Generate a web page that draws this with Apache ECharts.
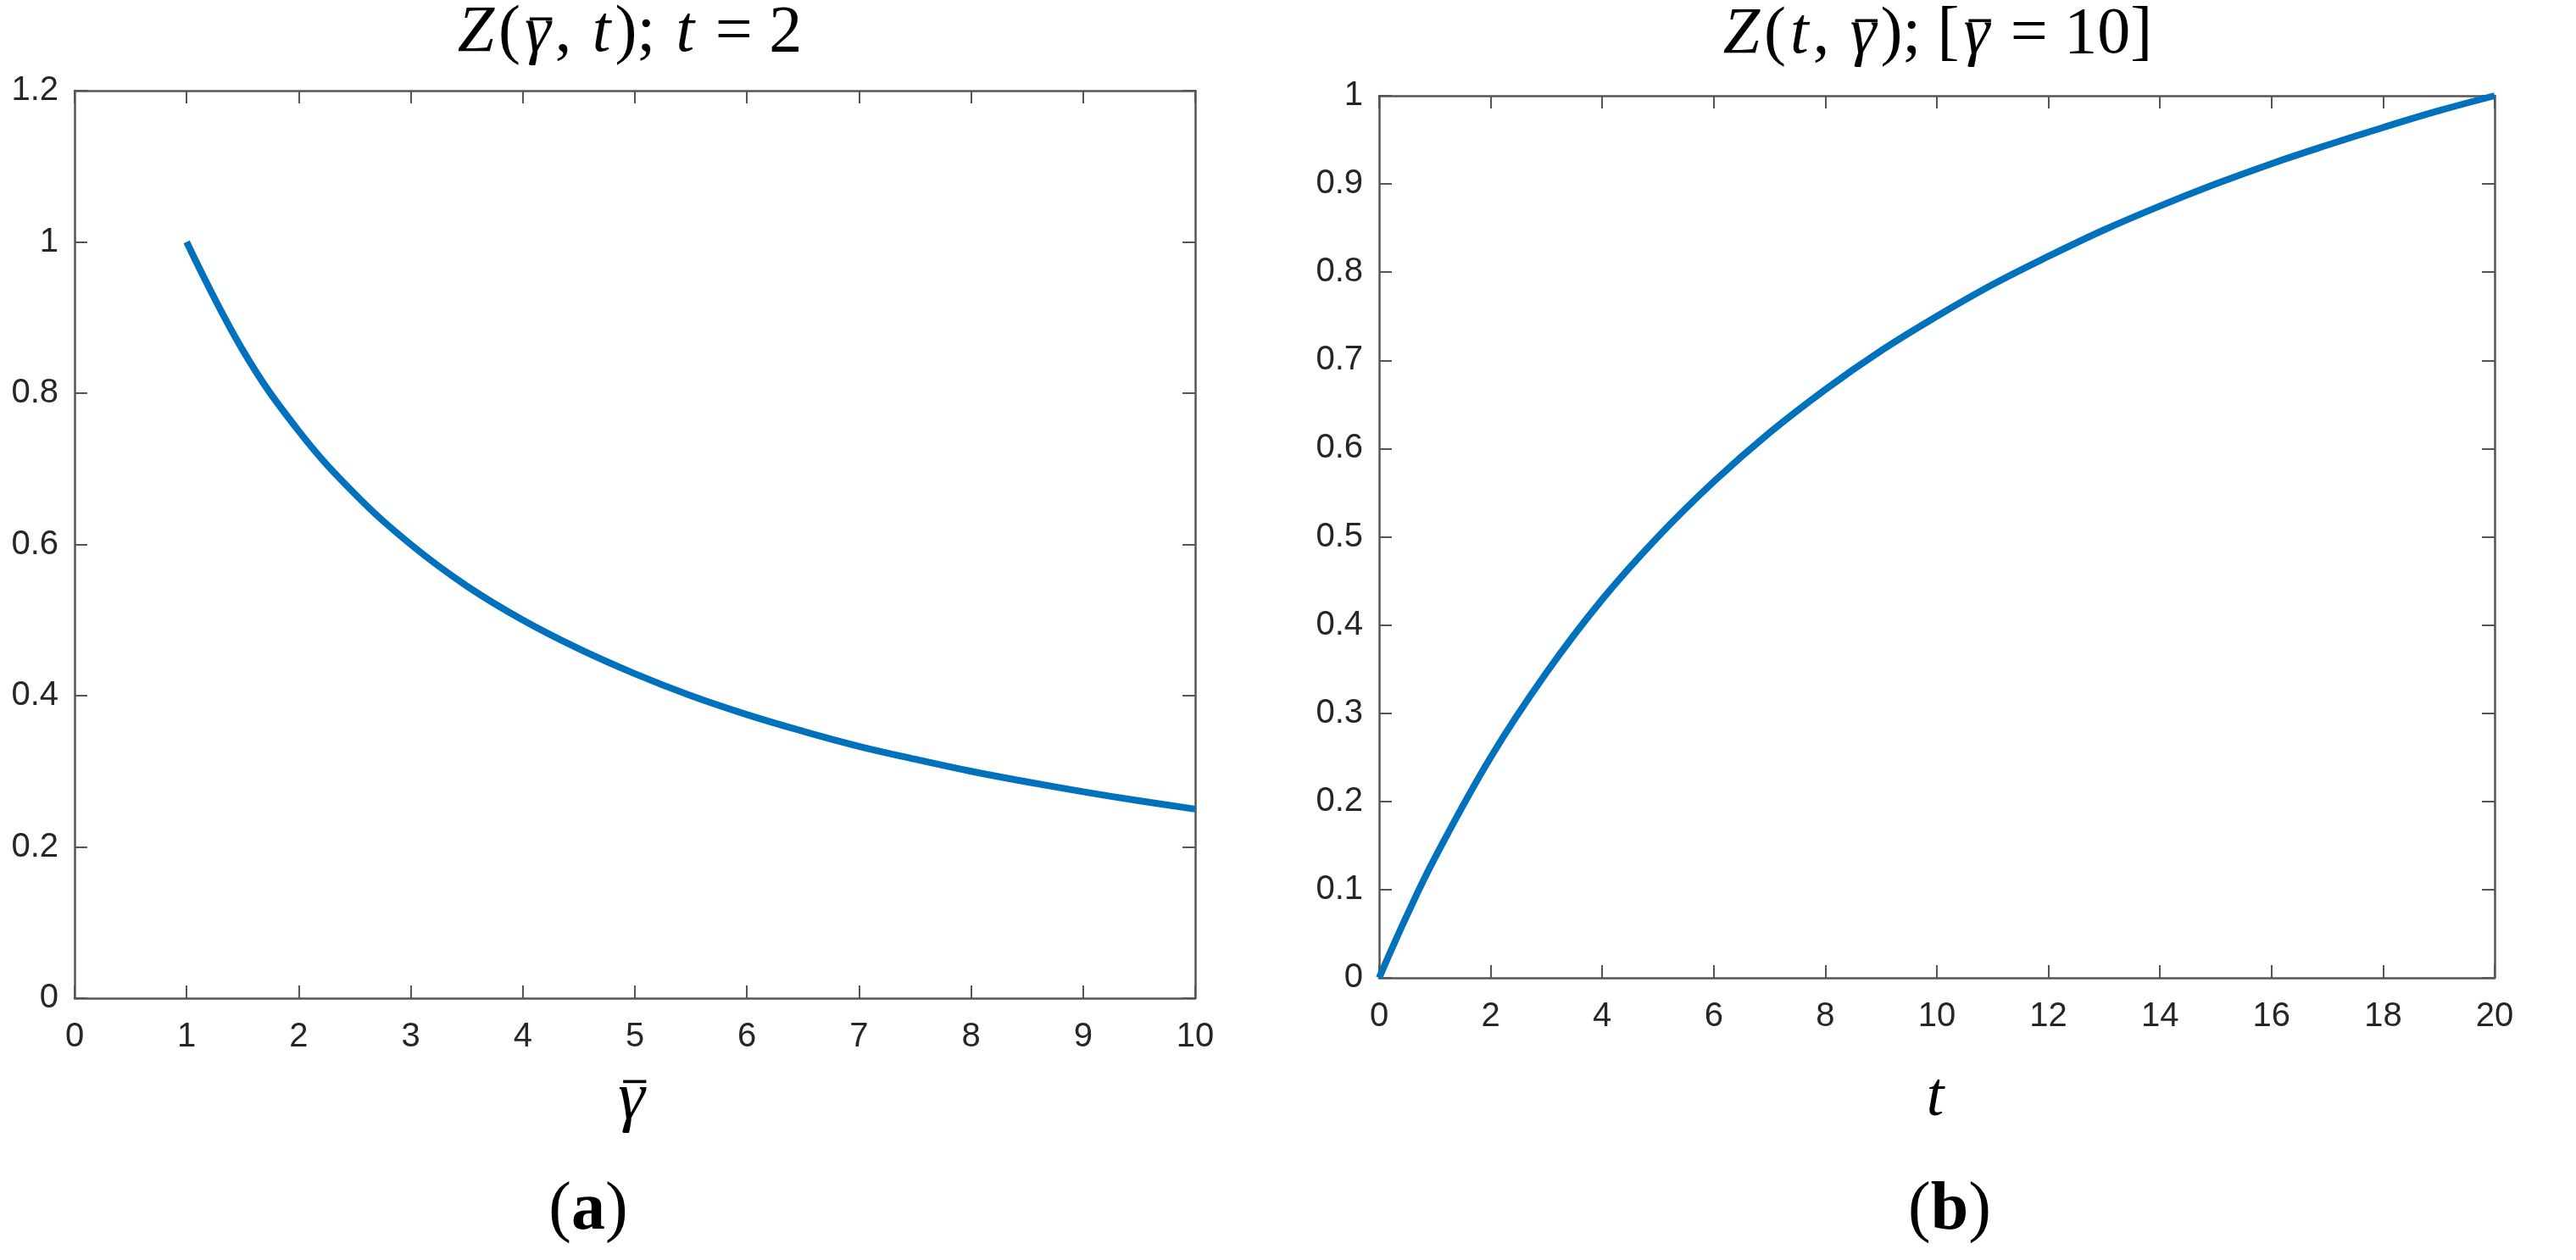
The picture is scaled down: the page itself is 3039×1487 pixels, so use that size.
<!DOCTYPE html>
<html>
<head>
<meta charset="utf-8">
<script src="https://cdn.jsdelivr.net/npm/echarts@6/dist/echarts.min.js"></script>
<style>html,body{margin:0;padding:0;background:#fff}#c{width:3039px;height:1487px}</style>
</head>
<body>
<div id="c"></div>
<script>
// (a) Z(gamma_bar, t), t = 2
const gammaBar = [1, 1.5, 2, 2.5, 3, 3.5, 4, 4.5, 5, 5.5, 6, 6.5, 7, 7.5, 8, 8.5, 9, 9.5, 10];
const zGamma   = [1.0, 0.857, 0.75, 0.667, 0.6, 0.545, 0.5, 0.462, 0.429, 0.4, 0.375, 0.353, 0.333, 0.316, 0.3, 0.286, 0.273, 0.261, 0.25];
// (b) Z(t, gamma_bar), gamma_bar = 10
const tVals = [0, 0.5, 1, 2, 3, 4, 5, 6, 7, 8, 9, 10, 11, 12, 13, 14, 15, 16, 17, 18, 19, 20];
const zT    = [0, 0.071, 0.136, 0.25, 0.346, 0.429, 0.5, 0.5625, 0.618, 0.667, 0.711, 0.75, 0.786, 0.818, 0.848, 0.875, 0.9, 0.923, 0.944, 0.964, 0.983, 1.0];

// text pieces: [text, style] where style i = italic, n = normal, b = bold, g = italic with bar
const titleA = [['Z', 'i'], ['(', 'n'], ['γ', 'g'], [', ', 'n'], ['t', 'i'], ['); ', 'n'], ['t', 'i'], [' = 2', 'n']];
const titleB = [['Z', 'i'], ['(', 'n'], ['t', 'i'], [', ', 'n'], ['γ', 'g'], ['); [', 'n'], ['γ', 'g'], [' = 10]', 'n']];
const nameA = [['γ', 'g']];
const nameB = [['t', 'i']];
const capA = [['(', 'n'], ['a', 'b'], [')', 'n']];
const capB = [['(', 'n'], ['b', 'b'], [')', 'n']];

const axisColor = '#555555';
const labelFont = {fontFamily: 'Liberation Sans, Arial, sans-serif', fontSize: 40, color: '#262626'};
const SERIF = 'Liberation Serif';
const lineColor = '#0072BD';

function pairs(xs, ys) { return xs.map((x, i) => [x, ys[i]]); }

const mctx = document.createElement('canvas').getContext('2d');
function fontOf(st, size) {
  const s = (st === 'i' || st === 'g') ? 'italic ' : '';
  const w = st === 'b' ? 'bold ' : 'normal ';
  return s + w + size + 'px "' + SERIF + '"';
}
function mathText(segs, cx, baseline, size, barRise, gap) {
  gap = gap || 0;
  const els = [];
  const ws = segs.map(([t, st]) => { mctx.font = fontOf(st, size); return mctx.measureText(t).width; });
  const total = ws.reduce((a, b) => a + b, 0) + gap * (segs.length - 1);
  let x = cx - total / 2;
  const midY = baseline - 0.3375 * size;
  segs.forEach(([t, st], k) => {
    els.push({type: 'text', silent: true, style: {x: x, y: midY, text: t, font: fontOf(st, size), fill: '#000', align: 'left', verticalAlign: 'middle'}});
    if (st === 'g') {
      const bc = x + ws[k] * 0.62;
      const by = baseline - barRise * size;
      els.push({type: 'line', silent: true, shape: {x1: bc - 0.17 * size, y1: by, x2: bc + 0.17 * size, y2: by}, style: {stroke: '#000', lineWidth: Math.max(2, size * 0.045)}});
    }
    x += ws[k] + gap;
  });
  return els;
}

function xAx(grid, max, interval, pos, showLabel) {
  return {
    type: 'value', gridIndex: grid, position: pos, min: 0, max: max, interval: interval,
    axisLine: {show: true, onZero: false, lineStyle: {color: axisColor, width: 2.5}},
    axisTick: {show: true, inside: true, length: 15, lineStyle: {color: axisColor, width: 2}},
    axisLabel: Object.assign({show: showLabel, margin: 26}, labelFont),
    splitLine: {show: false}
  };
}
function yAx(grid, max, interval, pos, showLabel) {
  return {
    type: 'value', gridIndex: grid, position: pos, min: 0, max: max, interval: interval,
    axisLine: {show: true, onZero: false, lineStyle: {color: axisColor, width: 2.5}},
    axisTick: {show: true, inside: true, length: 15, lineStyle: {color: axisColor, width: 2}},
    axisLabel: Object.assign({show: showLabel, margin: 19, formatter: v => String(+v.toFixed(2))}, labelFont),
    splitLine: {show: false}
  };
}

const graphics = [].concat(
  mathText(titleA, 743, 66, 78, 0.56, 5),
  mathText(titleB, 2286, 68, 78, 0.56, 5),
  mathText(nameA, 745, 1326, 80, 0.62),
  mathText(nameB, 2283, 1322, 74, 0.6),
  mathText(capA, 694, 1456, 80, 0.6),
  mathText(capB, 2300, 1456, 80, 0.6)
);

const chart = echarts.init(document.getElementById('c'));
chart.setOption({
  animation: false,
  backgroundColor: '#fff',
  grid: [
    {left: 88, top: 107, width: 1322, height: 1071},
    {left: 1627, top: 113, width: 1316, height: 1041}
  ],
  xAxis: [
    xAx(0, 10, 1, 'bottom', true),
    xAx(0, 10, 1, 'top', false),
    xAx(1, 20, 2, 'bottom', true),
    xAx(1, 20, 2, 'top', false)
  ],
  yAxis: [
    yAx(0, 1.2, 0.2, 'left', true),
    yAx(0, 1.2, 0.2, 'right', false),
    yAx(1, 1, 0.1, 'left', true),
    yAx(1, 1, 0.1, 'right', false)
  ],
  graphic: graphics,
  series: [
    {type: 'line', xAxisIndex: 0, yAxisIndex: 0, data: pairs(gammaBar, zGamma), smooth: 0.4, showSymbol: false,
     lineStyle: {color: lineColor, width: 8}, itemStyle: {color: lineColor}},
    {type: 'line', xAxisIndex: 2, yAxisIndex: 2, data: pairs(tVals, zT), smooth: 0.4, showSymbol: false,
     lineStyle: {color: lineColor, width: 8}, itemStyle: {color: lineColor}}
  ]
});
</script>
</body>
</html>
